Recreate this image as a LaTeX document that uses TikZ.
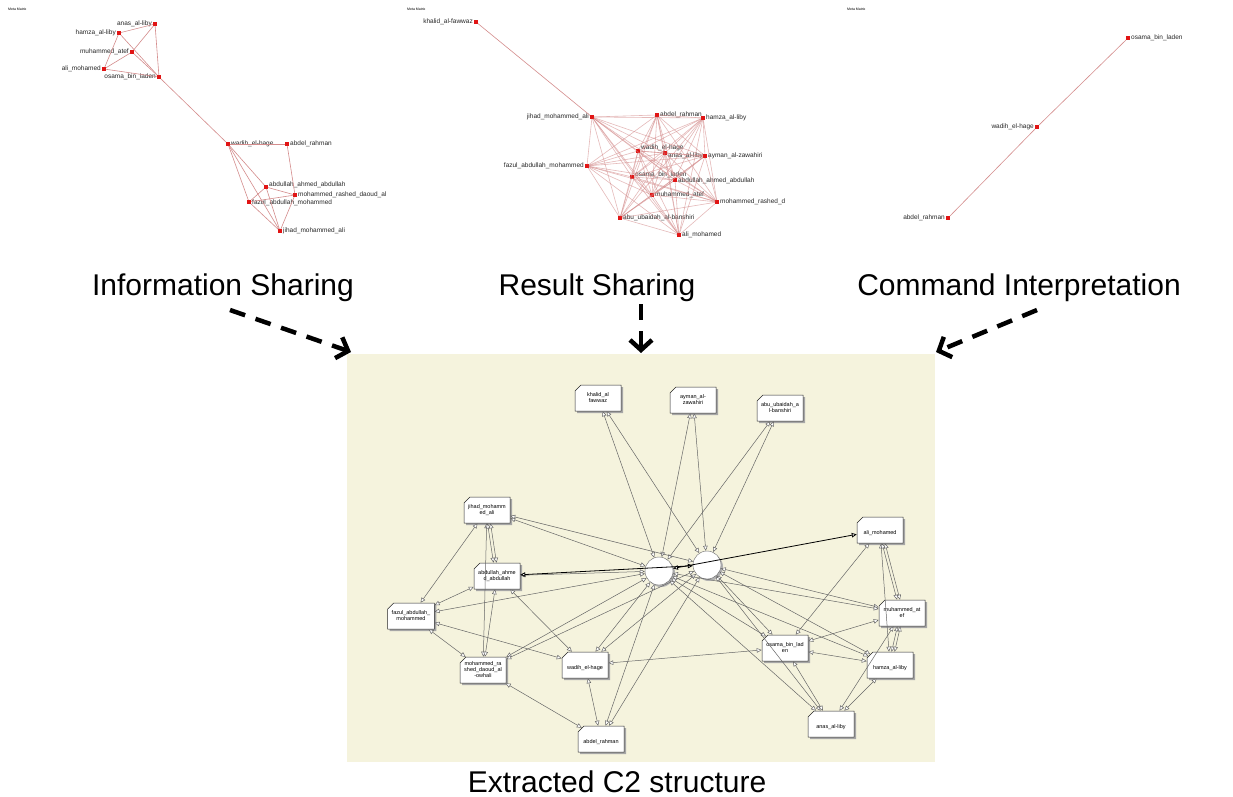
\documentclass[tikz,border=0pt]{standalone}
\usepackage{fontspec}
\setmainfont{Liberation Sans}
\usetikzlibrary{arrows.meta,shapes.misc,shadows}
\definecolor{cream}{RGB}{245,243,221}
\definecolor{linkred}{RGB}{212,140,140}
\definecolor{dotred}{RGB}{225,20,20}

\begin{document}
\begin{tikzpicture}[x=1pt,y=-1pt,
  caption/.style={font=\fontsize{30}{34}\selectfont, inner sep=0pt},
  meta/.style={font=\fontsize{3.5}{4}\selectfont, anchor=west, inner sep=0pt},
  pt/.style={rectangle, fill=dotred, minimum size=3.6pt, inner sep=0pt},
  plab/.style={font=\fontsize{6.5}{7}\selectfont, text=black!85, inner sep=1pt},
  pedge/.style={draw=linkred, line width=0.6pt},
  flow/.style={line width=4.5pt, dash pattern=on 16pt off 11pt,
               -{Straight Barb[length=10pt,width=22pt]}},
  actor/.style={chamfered rectangle, chamfered rectangle corners=north west,
                chamfered rectangle xsep=3pt, chamfered rectangle ysep=3pt,
                draw=black!85, line width=0.5pt, fill=white,
                minimum width=46pt, minimum height=26pt, inner sep=1pt,
                align=center, font=\fontsize{5.5}{6}\selectfont,
                drop shadow={shadow xshift=2pt, shadow yshift=-2pt, fill=black!35, opacity=1}},
  task/.style={circle, draw=black!60, fill=white, minimum size=28pt, inner sep=0pt,
               drop shadow={shadow xshift=2pt, shadow yshift=-2pt, fill=black!30, opacity=1}},
  cedge/.style={draw=black!60, line width=0.5pt, <->},
  strong/.style={draw=black, line width=0.8pt, <->},
  >={Triangle[length=5pt,width=4.5pt,fill=white]}
]
\useasboundingbox (0,0) rectangle (1233,797);
\fill[white] (0,0) rectangle (1233,797);

% ---------- panel headers ----------
\node[meta] (m1) at (8,9) {Meta Matrix};
\node[meta] (m2) at (407,9) {Meta Matrix};
\node[meta] (m3) at (847,9) {Meta Matrix};

% ---------- information sharing network ----------
\node[pt, label={[plab]left:anas\_al-liby}]      (a1)  at (155,24)  {};
\node[pt, label={[plab]left:hamza\_al-liby}]     (a2)  at (119,33)  {};
\node[pt, label={[plab]left:muhammed\_atef}]     (a3)  at (132,52)  {};
\node[pt, label={[plab]left:ali\_mohamed}]       (a4)  at (104,69)  {};
\node[pt, label={[plab]left:osama\_bin\_laden}]  (a5)  at (159,77)  {};
\node[pt, label={[plab]right:wadih\_el-hage}]    (a6)  at (228,144) {};
\node[pt, label={[plab]right:abdel\_rahman}]     (a7)  at (287,144) {};
\node[pt, label={[plab, yshift=2pt]right:abdullah\_ahmed\_abdullah}] (a8) at (266,187) {};
\node[pt, label={[plab]right:mohammed\_rashed\_daoud\_al}] (a9) at (295,195) {};
\node[pt, label={[plab, yshift=-1pt]right:fazul\_abdullah\_mohammed}] (a10) at (249,202) {};
\node[pt, label={[plab]right:jihad\_mohammed\_ali}] (a11) at (280,231) {};
\foreach \u/\v in {a1/a2,a1/a3,a1/a5,a2/a4,a2/a5,a3/a4,a3/a5,a4/a5,a5/a6,
                   a6/a7,a6/a8,a6/a10,a6/a11,a7/a9,a8/a9,a8/a10,a8/a11,
                   a9/a10,a9/a11,a10/a11}
  \draw[pedge] (\u) -- (\v);

% ---------- result sharing network ----------
\node[pt, label={[plab]left:khalid\_al-fawwaz}]        (b0)  at (476,22)  {};
\node[pt, label={[plab]left:jihad\_mohammed\_ali}]      (b1)  at (592,117) {};
\node[pt, label={[plab]right:abdel\_rahman}]            (b2)  at (657,115) {};
\node[pt, label={[plab]right:hamza\_al-liby}]           (b3)  at (703,118) {};
\node[pt, label={[plab, yshift=3.5pt]right:wadih\_el-hage}] (b4) at (638,151) {};
\node[pt, label={[plab, yshift=-2.5pt]right:anas\_al-liby}] (b5) at (665,153) {};
\node[pt, label={[plab]right:ayman\_al-zawahiri}]       (b6)  at (705,156) {};
\node[pt, label={[plab]left:fazul\_abdullah\_mohammed}] (b7)  at (587,166) {};
\node[pt, label={[plab, yshift=2pt]right:osama\_bin\_laden}] (b8) at (632,177) {};
\node[pt, label={[plab, yshift=-1pt]right:abdullah\_ahmed\_abdullah}] (b9) at (675,180) {};
\node[pt, label={[plab]right:muhammed\_atef}]           (b10) at (652,195) {};
\node[pt, label={[plab]right:mohammed\_rashed\_d}]      (b11) at (717,202) {};
\node[pt, label={[plab]right:abu\_ubaidah\_al-banshiri}] (b12) at (620,218) {};
\node[pt, label={[plab]right:ali\_mohamed}]             (b13) at (679,235) {};
\draw[pedge] (b0) -- (b1);
\foreach \i in {1,...,12}{
  \pgfmathtruncatemacro{\nx}{\i+1}
  \foreach \j in {\nx,...,13}
    \draw[pedge, opacity=0.6] (b\i) -- (b\j);
}

% ---------- command interpretation network ----------
\node[pt, label={[plab]right:osama\_bin\_laden}] (c1) at (1128,38)  {};
\node[pt, label={[plab]left:wadih\_el-hage}]     (c2) at (1037,127) {};
\node[pt, label={[plab]left:abdel\_rahman}]      (c3) at (948,218)  {};
\draw[pedge] (c1) -- (c2) -- (c3);

% ---------- captions and flow arrows ----------
\node[caption] (cap1) at (223,288) {Information Sharing};
\node[caption] (cap2) at (597,288) {Result Sharing};
\node[caption] (cap3) at (1019,288) {Command Interpretation};
\node[caption] (cap4) at (617,782) {Extracted C2 structure};

\fill[cream] (347,354) rectangle (935,762);

\coordinate (f1s) at (230,310);  \coordinate (f1e) at (351,352);
\coordinate (f2s) at (641,304);  \coordinate (f2e) at (641,353);
\coordinate (f3s) at (1037,310); \coordinate (f3e) at (936,352);
\draw[flow] (f1s) -- (f1e);
\draw[flow] (f2s) -- (f2e);
\draw[flow] (f3s) -- (f3e);

% ---------- extracted C2 structure ----------
\node[actor] (k)  at (598,398) {khalid\_al\\fawwaz};
\node[actor] (ay) at (693,400) {ayman\_al-\\zawahiri};
\node[actor] (ab) at (780,408) {abu\_ubaidah\_a\\l-banshiri};
\node[actor] (j)  at (487,510) {jihad\_mohamm\\ed\_ali};
\node[actor] (ad) at (497,576) {abdullah\_ahme\\d\_abdullah};
\node[actor] (fz) at (411,616) {fazul\_abdullah\_\\mohammed};
\node[actor] (mr) at (483,670) {mohammed\_ra\\shed\_daoud\_al\\-owhali};
\node[actor] (wd) at (585,665) {~\\[5pt]wadih\_el-hage};
\node[actor] (ar) at (601,739) {~\\[5pt]abdel\_rahman};
\node[actor] (os) at (785,648) {osama\_bin\_lad\\en};
\node[actor] (am) at (880,530) {~\\[5pt]ali\_mohamed};
\node[actor] (ma) at (902,613) {muhammed\_at\\ef};
\node[actor] (hz) at (890,665) {~\\[5pt]hamza\_al-liby};
\node[actor] (an) at (831,724) {~\\[5pt]anas\_al-liby};
\node[task]  (t1) at (659,571) {};
\node[task]  (t2) at (707,565) {};

\foreach \u/\v in {k/t1,k/t2,ay/t1,ay/t2,ab/t1,ab/t2,
                   j/t1,j/t2,j/fz,j/mr,
                   ad/t1,ad/fz,ad/mr,ad/wd,
                   fz/t1,fz/wd,fz/mr,
                   mr/t1,mr/t2,mr/ar,
                   wd/t1,wd/t2,wd/ar,wd/os,
                   ar/t1,ar/t2,
                   t2/ma,t1/ma,t2/hz,t1/hz,t2/os,t1/os,t2/an,t1/an,
                   os/am,os/ma,os/hz,os/an,
                   am/hz,ma/an,hz/an}
  \draw[cedge] (\u) -- (\v);
\draw[cedge, transform canvas={xshift=-1.5pt}] (j) -- (ad);
\draw[cedge, transform canvas={xshift=1.5pt}]  (j) -- (ad);
\draw[cedge, transform canvas={xshift=-1.5pt}] (am) -- (ma);
\draw[cedge, transform canvas={xshift=1.5pt}]  (am) -- (ma);
\draw[cedge, transform canvas={xshift=-1.5pt}] (ma) -- (hz);
\draw[cedge, transform canvas={xshift=1.5pt}]  (ma) -- (hz);
\draw[strong] (ad) -- (t2);
\draw[strong] (t1) -- (am);
\end{tikzpicture}
\end{document}
